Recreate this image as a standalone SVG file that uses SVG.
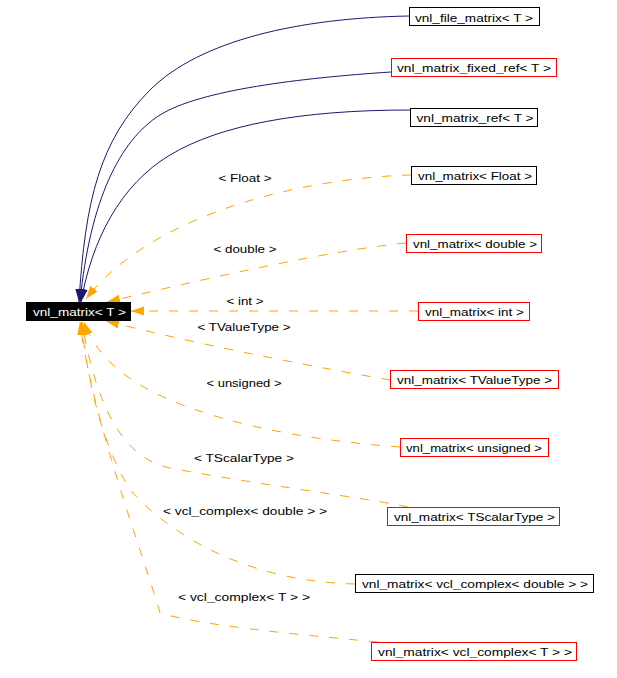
<svg xmlns="http://www.w3.org/2000/svg" width="617" height="678" viewBox="0 0 617 678">
<style>
  text { font-family: "Liberation Sans", Arial, sans-serif; font-size: 11.5px; fill: #000; }
  .n text { text-anchor: middle; }
  .box { fill: #fff; stroke: #000; stroke-width: 1; }
  .red { fill: #fff; stroke: #ff0000; stroke-width: 1; }
  .main { fill: #000; stroke: #000; }
  .main-t { fill: #fff; }
  .inh { fill: none; stroke: #191970; stroke-width: 1; marker-end: url(#ab); }
  .tpl { fill: none; stroke: #ffa500; stroke-width: 1; stroke-dasharray: 9,11; marker-end: url(#ao); }
  .lbl { text-anchor: middle; }
</style>
<defs>
  <marker id="ab" markerUnits="userSpaceOnUse" markerWidth="14" markerHeight="10" refX="13" refY="5" orient="auto">
    <path d="M0,0.5 L13,5 L0,9.5 z" fill="#191970" stroke="none"/>
  </marker>
  <marker id="ao" markerUnits="userSpaceOnUse" markerWidth="14" markerHeight="10" refX="13" refY="5" orient="auto">
    <path d="M0,0.5 L13,5 L0,9.5 z" fill="#ffa500" stroke="none"/>
  </marker>
</defs>
<rect width="617" height="678" fill="#fff"/>
<g id="connectors">
  <path class="inh" d="M409,16 C300,18 200,40 150,90 C100,140 85,200 79,302"/>
  <path class="inh" d="M391,72 C300,78 200,90 160,115 C120,140 90,200 80,302"/>
  <path class="inh" d="M410,110 C300,110 220,125 170,155 C120,185 92,240 81,302"/>
  <path class="tpl" d="M411,175 C300,178 150,215 86,299"/>
  <path class="tpl" d="M406,243 C330,250 200,280 107,302"/>
  <path class="tpl" d="M418,311 L131,311"/>
  <path class="tpl" d="M390,380 C320,368 200,345 106,321"/>
  <path class="tpl" d="M400,447 C300,440 200,420 140,385 C110,367 92,345 84,322"/>
  <path class="tpl" d="M408,507 C360,497 260,485 170,468 C120,458 95,400 82,322"/>
  <path class="tpl" d="M355,584 C260,582 180,545 130,490 C100,440 88,380 81,322"/>
  <path class="tpl" d="M378,642 C290,634 200,625 160,613 C145,560 92,420 80,322"/>
  <text class="lbl" x="245" y="182" textLength="53" lengthAdjust="spacingAndGlyphs">&lt; Float &gt;</text>
  <text class="lbl" x="245" y="253" textLength="63" lengthAdjust="spacingAndGlyphs">&lt; double &gt;</text>
  <text class="lbl" x="245" y="305" textLength="37" lengthAdjust="spacingAndGlyphs">&lt; int &gt;</text>
  <text class="lbl" x="244" y="331" textLength="93" lengthAdjust="spacingAndGlyphs">&lt; TValueType &gt;</text>
  <text class="lbl" x="244" y="387" textLength="75" lengthAdjust="spacingAndGlyphs">&lt; unsigned &gt;</text>
  <text class="lbl" x="244" y="462" textLength="100" lengthAdjust="spacingAndGlyphs">&lt; TScalarType &gt;</text>
  <text class="lbl" x="245" y="515" textLength="164" lengthAdjust="spacingAndGlyphs">&lt; vcl_complex&lt; double &gt; &gt;</text>
  <text class="lbl" x="244" y="601" textLength="132" lengthAdjust="spacingAndGlyphs">&lt; vcl_complex&lt; T &gt; &gt;</text>
</g>
<g id="node_main" class="n">
  <rect class="main" x="26.5" y="302.5" width="104" height="18"/>
  <text class="main-t" x="79.5" y="316" textLength="93" lengthAdjust="spacingAndGlyphs">vnl_matrix&lt; T &gt;</text>
</g>
<g id="node_file_matrix" class="n">
  <rect class="box" x="409.5" y="7.5" width="130" height="18"/>
  <text x="474" y="21.5" textLength="118" lengthAdjust="spacingAndGlyphs">vnl_file_matrix&lt; T &gt;</text>
</g>
<g id="node_fixed_ref" class="n">
  <rect class="red" x="391.5" y="58.5" width="165" height="18"/>
  <text x="474" y="72" textLength="154" lengthAdjust="spacingAndGlyphs">vnl_matrix_fixed_ref&lt; T &gt;</text>
</g>
<g id="node_matrix_ref" class="n">
  <rect class="box" x="410.5" y="108.5" width="127" height="18"/>
  <text x="475" y="122" textLength="117" lengthAdjust="spacingAndGlyphs">vnl_matrix_ref&lt; T &gt;</text>
</g>
<g id="node_float" class="n">
  <rect class="box" x="411.5" y="166.5" width="125" height="18"/>
  <text x="475" y="180" textLength="114" lengthAdjust="spacingAndGlyphs">vnl_matrix&lt; Float &gt;</text>
</g>
<g id="node_double" class="n">
  <rect class="red" x="406.5" y="234.5" width="135" height="18"/>
  <text x="475" y="248" textLength="124" lengthAdjust="spacingAndGlyphs">vnl_matrix&lt; double &gt;</text>
</g>
<g id="node_int" class="n">
  <rect class="red" x="418.5" y="302.5" width="111" height="18"/>
  <text x="474.5" y="316" textLength="99" lengthAdjust="spacingAndGlyphs">vnl_matrix&lt; int &gt;</text>
</g>
<g id="node_tvaluetype" class="n">
  <rect class="red" x="390.5" y="370.5" width="168" height="18"/>
  <text x="474.5" y="384" textLength="155" lengthAdjust="spacingAndGlyphs">vnl_matrix&lt; TValueType &gt;</text>
</g>
<g id="node_unsigned" class="n">
  <rect class="red" x="400.5" y="438.5" width="148" height="18"/>
  <text x="474" y="452" textLength="136" lengthAdjust="spacingAndGlyphs">vnl_matrix&lt; unsigned &gt;</text>
</g>
<g id="node_tscalartype" class="n">
  <rect class="red" x="387.5" y="507.5" width="172" height="18" stroke="#ff0000"/>
  <text x="474.5" y="521" textLength="161" lengthAdjust="spacingAndGlyphs">vnl_matrix&lt; TScalarType &gt;</text>
</g>
<g id="node_complex_double" class="n">
  <rect class="box" x="355.5" y="574.5" width="238" height="18"/>
  <text x="475" y="588" textLength="226" lengthAdjust="spacingAndGlyphs">vnl_matrix&lt; vcl_complex&lt; double &gt; &gt;</text>
</g>
<g id="node_complex_t" class="n">
  <rect class="red" x="371.5" y="642.5" width="205" height="18"/>
  <text x="475" y="656" textLength="194" lengthAdjust="spacingAndGlyphs">vnl_matrix&lt; vcl_complex&lt; T &gt; &gt;</text>
</g>
</svg>
